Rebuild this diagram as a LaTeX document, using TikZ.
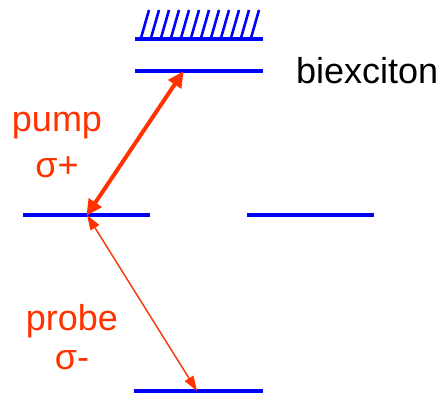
\documentclass[tikz,border=0pt]{standalone}
\usepackage{fontspec}
\setmainfont{Liberation Sans}
\usetikzlibrary{arrows.meta}
\definecolor{lvl}{RGB}{0,0,255}
\definecolor{las}{RGB}{255,51,0}
\begin{document}
\begin{tikzpicture}[x=1pt,y=-1pt,
  level/.style={draw=lvl,line width=4pt},
  hatchline/.style={draw=lvl,line width=2.6pt},
  pumparrow/.style={draw=las,line width=4pt,{Triangle[length=16pt,width=15pt]}-{Triangle[length=16pt,width=15pt]},shorten <=-1pt,shorten >=-1pt},
  probearrow/.style={draw=las,line width=1.4pt,{Triangle[length=15pt,width=10pt]}-{Triangle[length=15pt,width=10pt]}},
  lab/.style={text=las,font=\fontsize{36}{42}\selectfont,inner sep=0pt},
  blab/.style={text=black,font=\fontsize{36}{42}\selectfont,inner sep=0pt}]
\useasboundingbox (0,0) rectangle (446,395);
% levels
\coordinate (hL) at (135,39); \coordinate (hR) at (263,39);
\coordinate (bL) at (135,71); \coordinate (bR) at (263,71);
\coordinate (mL) at (23,215); \coordinate (mR) at (150,215);
\coordinate (rL) at (247,215); \coordinate (rR) at (374,215);
\coordinate (gL) at (134,391); \coordinate (gR) at (263,391);
\draw[level] (hL) -- (hR);
\draw[level] (bL) -- (bR);
\draw[level] (mL) -- (mR);
\draw[level] (rL) -- (rR);
\draw[level] (gL) -- (gR);
% hatching
\foreach \i in {0,...,11}{
  \draw[hatchline] (141+10*\i,38) -- (149+10*\i,10);
}
% transitions
\coordinate (pumpTop) at (183,72);
\coordinate (mid) at (87,215);
\coordinate (probeBot) at (197,391);
\draw[pumparrow] (pumpTop) -- (mid);
\draw[probearrow] (mid) -- (probeBot);
% labels
\node[blab,anchor=base west] (bx) at (296,84) {biexciton};
\node[lab,anchor=base] (pump) at (57,132) {pump};
\node[lab,anchor=base] (sp) at (57,178) {σ+};
\node[lab,anchor=base] (probe) at (72,330) {probe};
\node[lab,anchor=base] (sm) at (72,369) {σ-};
\end{tikzpicture}
\end{document}
